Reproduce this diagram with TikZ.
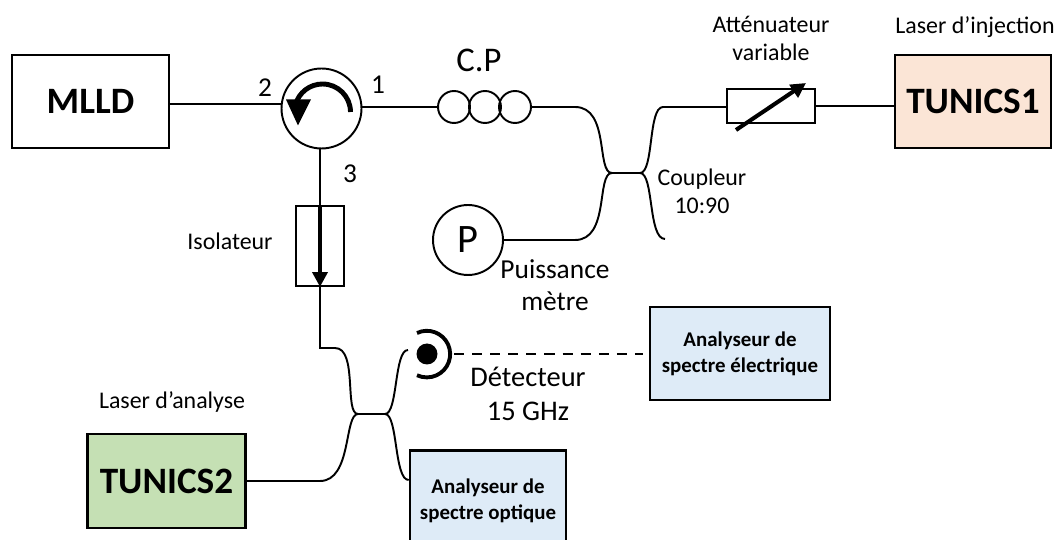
\documentclass[tikz,border=0pt]{standalone}
\usepackage{fontspec}
\setmainfont{Carlito}
\usepackage{xcolor}
\usetikzlibrary{arrows.meta,calc,positioning}
\definecolor{injectpink}{HTML}{FBE5D6}
\definecolor{analysegreen}{HTML}{C5E0B4}
\definecolor{analyseblue}{HTML}{DEEBF7}
\tikzset{
  fibre/.style={black,line width=1.1pt},
  device/.style={draw=black,line width=1.5pt,inner sep=0pt,font=\fontsize{21.2}{23}\selectfont\bfseries},
  analyser/.style={draw=black,line width=1.5pt,fill=analyseblue,inner sep=0pt,align=center,font=\fontsize{11.9}{14.8}\selectfont\bfseries},
  ring/.style={circle,draw=black,line width=1.1pt,inner sep=0pt},
  tube/.style={draw=black,line width=1.1pt,inner sep=0pt},
  label/.style={inner sep=0pt,align=center,font=\fontsize{13.6}{16}\selectfont},
  biglabel/.style={inner sep=0pt,align=center,font=\fontsize{15.6}{18.3}\selectfont},
  number/.style={inner sep=0pt,font=\fontsize{15.5}{17}\selectfont},
  thickarrow/.style={line width=2.3pt,-{Triangle[length=8.5pt,width=8.5pt]}}
}
\begin{document}
\begin{tikzpicture}[x=0.02cm,y=-0.02cm]
\useasboundingbox (0,0) rectangle (1056,540);
% sources
\node[device,minimum width=3.14cm,minimum height=1.86cm] (mlld) at (90.5,101.5) {MLLD};
\node[device,fill=injectpink,minimum width=3.12cm,minimum height=1.86cm] (tunicsA) at (973,101.5) {TUNICS1};
\node[device,fill=analysegreen,minimum width=3.16cm,minimum height=1.88cm] (tunicsB) at (166.5,481) {TUNICS2};
% circulator
\node[ring,minimum size=1.6cm] (circ) at (321.5,108.5) {};
\draw[line width=2.8pt] (350.5,112) arc[start angle=0,end angle=-165,radius=28];
\fill (286,99.5) -- (311,99.5) -- (298,125.5) -- cycle;
% polarisation controller
\node[ring,minimum size=0.64cm] (cpA) at (454,107) {};
\node[ring,minimum size=0.64cm] (cpB) at (485,107) {};
\node[ring,minimum size=0.64cm] (cpC) at (515,107) {};
% attenuator and isolator
\node[tube,minimum width=1.76cm,minimum height=0.68cm] (atten) at (771,105.8) {};
\draw[thickarrow] (736,130) -- (806,83);
\node[tube,minimum width=0.96cm,minimum height=1.6cm] (iso) at (320,246) {};
% power meter and detector
\node[ring,minimum size=1.4cm,font=\fontsize{23}{25}\selectfont] (pm) at (468,240) {P};
\node[circle,fill=black,minimum size=0.42cm,inner sep=0pt] (det) at (427,354) {};
\draw[line width=2.2pt] (417,333) arc[start angle=-115,end angle=115,radius=23.3];
% analysers
\node[analyser,minimum width=3.6cm,minimum height=1.86cm] (elec) at (740,353.5) {Analyseur de\\spectre électrique};
\node[analyser,minimum width=3.12cm,minimum height=2cm] (opt) at (488,500.5) {Analyseur de\\spectre optique};
% fibres
\draw[fibre] (mlld.east |- circ.174) -- (circ.174);
\draw[fibre] (circ.east |- cpA.west) -- (cpA.west);
\draw[fibre] (iso.north |- circ.south) -- (iso.north);
\draw[thickarrow] (iso.north) -- (iso.south);
\draw[fibre] (atten.east) -- (atten.east -| tunicsA.west);
% upper coupler
\coordinate (upL) at (612,173);
\coordinate (upR) at (640,173);
\draw[fibre] (cpC.east) -- (575,107) .. controls (610,107) and (596,173) .. (upL) -- (upR)
  .. controls (654,173) and (648,107) .. (663,107) -- (atten.west |- 663,107);
\draw[fibre] (pm.east) -- (575,240) .. controls (610,240) and (596,173) .. (upL);
\draw[fibre] (upR) .. controls (654,173) and (648,239) .. (665,239);
% lower coupler
\coordinate (loL) at (358,414);
\coordinate (loR) at (385,414);
\draw[fibre] (iso.south) -- (320,348) -- (335,348) .. controls (358,348) and (344,414) .. (loL) -- (loR)
  .. controls (398,414) and (394,350) .. (408,350);
\draw[fibre] (tunicsB.east) -- (320,481) .. controls (352,481) and (344,414) .. (loL);
\draw[fibre] (loR) .. controls (398,414) and (394,480) .. (opt.west |- 0,480);
\draw[fibre,line width=1.3pt,dash pattern=on 5.7pt off 4.6pt,shorten >=3.5pt] (454,354) -- (elec.west |- det);
% labels
\node[label] at (771,38) {Atténuateur\\variable};
\node[label] at (975,27) {Laser d’injection};
\node[label] at (702,191) {Coupleur\\10:90};
\node[label] at (230,241) {Isolateur};
\node[label] at (172,402) {Laser d’analyse};
\node[biglabel] at (555,285) {Puissance\\mètre};
\node[biglabel,font=\fontsize{16.2}{19.5}\selectfont] at (528,394) {Détecteur\\15 GHz};
\node[inner sep=0pt,font=\fontsize{19.7}{22}\selectfont] at (479,60) {C.P};
\node[number] at (265,88) {2};
\node[number] at (378,85) {1};
\node[number] at (350,174) {3};
\end{tikzpicture}
\end{document}
